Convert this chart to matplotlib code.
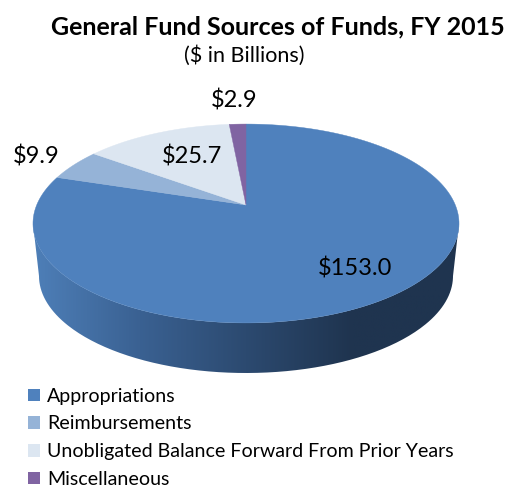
import numpy as np
import matplotlib
matplotlib.use("Agg")
import matplotlib.pyplot as plt
from matplotlib.colors import LinearSegmentedColormap
from matplotlib.patches import Patch, PathPatch
from matplotlib.path import Path

plt.rcParams['font.family'] = ['Lato', 'DejaVu Sans']

# Data
categories = ["Appropriations", "Reimbursements",
              "Unobligated Balance Forward From Prior Years", "Miscellaneous"]
values = [153.0, 9.9, 25.7, 2.9]
value_labels = ["$153.0", "$9.9", "$25.7", "$2.9"]
colors = ["#4F81BD", "#95B3D7", "#DCE6F1", "#8064A2"]
side_colors = ["#4E7FB8", "#3A6192", "#2C4A70", "#1F344F", "#1F344F"]

# Pie geometry, in pixels of the 514x487 image
CX, CY = 246, 205
RX, RY = 209.3, 96.0
TILT = 0.186            # perspective: the back of the disc looks smaller
LABEL_POS = [(355, 269), (36, 156), (192, 157), (234, 101)]


def project(angle):
    """Clockwise angle from 12 o'clock on the disc -> pixel position."""
    u, v = np.sin(angle), np.cos(angle)
    s = 1 / (1 + TILT * v)
    return CX + RX * u * s, CY - RY * v * s


fig = plt.figure(figsize=(5.14, 4.87), dpi=100)
ax = fig.add_axes([0, 0, 1, 1])
ax.set_xlim(0, 514)
ax.set_ylim(487, 0)
ax.axis("off")

# Side of the disc: front half of the top edge joined to a smaller lower edge
t = np.linspace(0, np.pi, 200)
top_x = 246 + 213 * np.cos(t)
top_y = 223.5 + 99.5 * np.sin(t)
low_x = 246 + 207 * np.cos(t)
low_y = 276 + 97 * np.sin(t)
side = np.column_stack([np.r_[top_x, low_x[::-1]], np.r_[top_y, low_y[::-1]]])
side_patch = PathPatch(Path(np.vstack([side, side[0]])), fc="none", ec="none")
ax.add_patch(side_patch)
cmap = LinearSegmentedColormap.from_list("side", side_colors)
grad = ax.imshow(np.linspace(0, 1, 256).reshape(1, -1), cmap=cmap, aspect="auto",
                 extent=(33, 459, 373, 220), zorder=1)
grad.set_clip_path(side_patch)
ax.set_xlim(0, 514)
ax.set_ylim(487, 0)

# Top face, one polygon per slice
edges = np.r_[0, np.cumsum(values)] / np.sum(values) * 2 * np.pi
for start, stop, color in zip(edges[:-1], edges[1:], colors):
    x, y = project(np.linspace(start, stop, 200))
    ax.fill(np.r_[CX, x], np.r_[CY, y], fc=color, ec=color, lw=0.3, zorder=2)

for (x, y), label in zip(LABEL_POS, value_labels):
    ax.text(x, y, label, fontsize=17, ha="center", va="center", color="black", zorder=3)

ax.text(277.5, 27, "General Fund Sources of Funds, FY 2015", fontsize=18,
        fontweight="bold", ha="center", va="center")
ax.text(244, 56, "($ in Billions)", fontsize=15.5, ha="center", va="center")

handles = [Patch(fc=c, ec="none") for c in colors]
ax.legend(handles, categories, loc="lower left", bbox_to_anchor=(28 / 514, -1 / 487),
          frameon=False, fontsize=14.1, borderpad=0, borderaxespad=0,
          handlelength=0.61, handleheight=0.61, handletextpad=0.35, labelspacing=0.55)

fig.savefig("out.png", dpi=100)
